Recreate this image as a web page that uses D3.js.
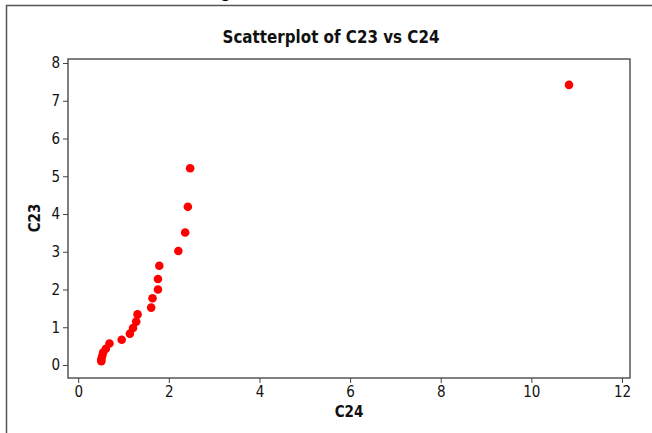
<!DOCTYPE html>
<html>
<head>
<meta charset="utf-8">
<script src="https://cdn.jsdelivr.net/npm/d3@7"></script>
<style>
html,body{margin:0;padding:0;background:#fff;}
svg{display:block;}
text{font-family:Tahoma,"DejaVu Sans Condensed","DejaVu Sans",sans-serif;}
</style>
</head>
<body>
<svg id="chart" width="652" height="433"></svg>
<script>
// Data
const c24 = [10.83, 2.47, 2.42, 2.36, 2.21, 1.79, 1.76, 1.76, 1.64, 1.61, 1.31, 1.28, 1.21, 1.14, 0.96, 0.69, 0.61, 0.55, 0.53, 0.51, 0.51];
const c23 = [7.42, 5.21, 4.19, 3.51, 3.02, 2.63, 2.28, 2.00, 1.77, 1.52, 1.34, 1.15, 0.98, 0.83, 0.67, 0.57, 0.43, 0.33, 0.24, 0.15, 0.10];
const xTicks = [0, 2, 4, 6, 8, 10, 12];
const yTicks = [0, 1, 2, 3, 4, 5, 6, 7, 8];
const title = "Scatterplot of C23 vs C24";
const xLabel = "C24";
const yLabel = "C23";

const svg = d3.select("#chart");
const frame = {left: 68, right: 630, top: 59, bottom: 378};
const fam = "Tahoma,'DejaVu Sans Condensed','DejaVu Sans',sans-serif";

const xs = d3.scaleLinear().domain([0, 12]).range([78.2, 622]);
const ys = d3.scaleLinear().domain([0, 8]).range([365, 63]);

// outer page border fragment
svg.append("line").attr("x1", 6).attr("x2", 652).attr("y1", 5.5).attr("y2", 5.5)
  .attr("stroke", "#555").attr("stroke-width", 1.5);
svg.append("line").attr("x1", 6.5).attr("x2", 6.5).attr("y1", 5).attr("y2", 433)
  .attr("stroke", "#555").attr("stroke-width", 1.5);
// cut-off glyph above the border (as in the reference)
svg.append("text").attr("x", 222).attr("y", -4).style("font-size", "20px")
  .style("font-family", "'Liberation Serif',serif").style("font-style", "italic").text("g");

// title
svg.append("text").attr("x", 331).attr("y", 43).attr("text-anchor", "middle")
  .style("font-size", "17px").attr("font-weight", "bold").attr("fill", "#111")
  .attr("textLength", 217).attr("lengthAdjust", "spacingAndGlyphs").text(title);

// plot frame
svg.append("rect").attr("x", frame.left).attr("y", frame.top)
  .attr("width", frame.right - frame.left).attr("height", frame.bottom - frame.top)
  .attr("fill", "none").attr("stroke", "#555").attr("stroke-width", 1.5);

// axes
const xAxis = d3.axisBottom(xs).tickValues(xTicks).tickSizeInner(5).tickSizeOuter(0).tickPadding(3);
const gx = svg.append("g").attr("transform", `translate(0,${frame.bottom})`).call(xAxis);
gx.select(".domain").remove();
gx.selectAll("line").attr("stroke", "#444");
gx.selectAll("text").style("font-size", "15px").attr("fill", "#111").style("font-family", fam);

const yAxis = d3.axisLeft(ys).tickValues(yTicks).tickSizeInner(5).tickSizeOuter(0).tickPadding(3);
const gy = svg.append("g").attr("transform", `translate(${frame.left},0)`).call(yAxis);
gy.select(".domain").remove();
gy.selectAll("line").attr("stroke", "#444");
gy.selectAll("text").style("font-size", "15px").attr("fill", "#111").style("font-family", fam);

// axis labels
svg.append("text").attr("x", 349).attr("y", 417).attr("text-anchor", "middle")
  .style("font-size", "15px").attr("font-weight", "bold").attr("fill", "#111").text(xLabel);
svg.append("text").attr("transform", "translate(40,218) rotate(-90)").attr("text-anchor", "middle")
  .style("font-size", "15px").attr("font-weight", "bold").attr("fill", "#111").text(yLabel);

// points
svg.append("g").selectAll("circle").data(c24.map((v, i) => [v, c23[i]])).join("circle")
  .attr("cx", d => xs(d[0])).attr("cy", d => ys(d[1])).attr("r", 4.3).attr("fill", "#ff0000");
</script>
</body>
</html>
